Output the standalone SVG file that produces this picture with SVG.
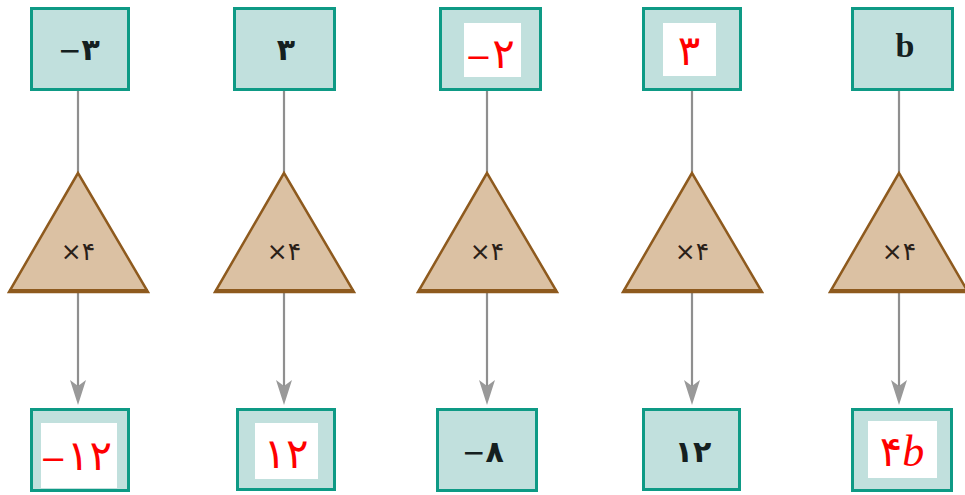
<svg xmlns="http://www.w3.org/2000/svg" width="965" height="495" viewBox="0 0 965 495">
<style>
.box{fill:#c1e0dd;stroke:#0e9a85;stroke-width:3}
.wb{fill:#ffffff}
.tri{fill:#dbc1a3;stroke:#8e5a1e;stroke-width:2.5;stroke-linejoin:miter}
.base{stroke:#8e5a1e;stroke-width:4}
.ln{stroke:#8f8f8f;stroke-width:2.2;fill:none}
.ah{fill:#999999}
.dk{font-family:"DejaVu Sans",sans-serif;font-size:30px;font-weight:bold;fill:#152020;text-anchor:middle}
.op{font-family:"DejaVu Sans",sans-serif;font-size:25px;fill:#2a2018;text-anchor:middle}
.rd{font-family:"DejaVu Sans",sans-serif;font-size:42px;fill:#ff0000;text-anchor:middle}
.bs{font-family:"Liberation Serif",serif;font-size:34px;font-weight:bold;fill:#152020;text-anchor:middle}
.mn{font-weight:normal;font-size:28px}
.mr{font-size:32px}
</style>
<g id="connectors">
<line class="ln" x1="78" y1="91" x2="78" y2="172"/>
<line class="ln" x1="78" y1="292" x2="78" y2="390"/>
<line class="ln" x1="284" y1="91" x2="284" y2="172"/>
<line class="ln" x1="284" y1="292" x2="284" y2="390"/>
<line class="ln" x1="487" y1="91" x2="487" y2="172"/>
<line class="ln" x1="487" y1="292" x2="487" y2="390"/>
<line class="ln" x1="692" y1="91" x2="692" y2="172"/>
<line class="ln" x1="692" y1="292" x2="692" y2="390"/>
<line class="ln" x1="899" y1="91" x2="899" y2="172"/>
<line class="ln" x1="899" y1="292" x2="899" y2="390"/>
<path class="ah" d="M70,380 L78,386 L86,380 L78,405 Z"/>
<path class="ah" d="M276,380 L284,386 L292,380 L284,405 Z"/>
<path class="ah" d="M479,380 L487,386 L495,380 L487,405 Z"/>
<path class="ah" d="M684,380 L692,386 L700,380 L692,405 Z"/>
<path class="ah" d="M891,380 L899,386 L907,380 L899,405 Z"/>
</g>
<g id="top1"><rect class="box" x="31.5" y="8.5" width="97" height="81"/><text class="dk" x="79" y="60"><tspan class="mn">−</tspan>۳</text></g>
<g id="top2"><rect class="box" x="234.5" y="8.5" width="100" height="81"/><text class="dk" x="286" y="60">۳</text></g>
<g id="top3"><rect class="box" x="440.5" y="8.5" width="100" height="81"/><rect class="wb" x="464" y="23" width="57" height="54"/><text class="rd" x="490" y="68"><tspan class="mr">−</tspan>۲</text></g>
<g id="top4"><rect class="box" x="643.5" y="8.5" width="97" height="81"/><rect class="wb" x="663" y="23" width="53" height="53"/><text class="rd" x="689" y="65">۳</text></g>
<g id="top5"><rect class="box" x="852.5" y="8.5" width="100" height="81"/><text class="bs" x="905" y="57">b</text></g>
<g id="op1"><polygon class="tri" points="78,173 9,292 148,292"/><line class="base" x1="9" y1="291" x2="148" y2="291"/><text class="op" x="78" y="260">×۴</text></g>
<g id="op2"><polygon class="tri" points="284,173 215,292 354,292"/><line class="base" x1="215" y1="291" x2="354" y2="291"/><text class="op" x="284" y="260">×۴</text></g>
<g id="op3"><polygon class="tri" points="487,173 418,292 557,292"/><line class="base" x1="418" y1="291" x2="557" y2="291"/><text class="op" x="487" y="260">×۴</text></g>
<g id="op4"><polygon class="tri" points="692,173 623,292 762,292"/><line class="base" x1="623" y1="291" x2="762" y2="291"/><text class="op" x="692" y="260">×۴</text></g>
<g id="op5"><polygon class="tri" points="899,173 830,292 968,292"/><line class="base" x1="830" y1="291" x2="968" y2="291"/><text class="op" x="899" y="260">×۴</text></g>
<g id="bot1"><rect class="box" x="31.5" y="409.5" width="97" height="81"/><rect class="wb" x="41" y="423" width="76" height="65"/><text class="rd" x="76" y="470"><tspan class="mr">−</tspan>۱۲</text></g>
<g id="bot2"><rect class="box" x="237.5" y="409.5" width="97" height="80"/><rect class="wb" x="255" y="423" width="63" height="56"/><text class="rd" x="286" y="468">۱۲</text></g>
<g id="bot3"><rect class="box" x="437.5" y="409.5" width="99" height="81"/><text class="dk" x="483" y="462"><tspan class="mn">−</tspan>۸</text></g>
<g id="bot4"><rect class="box" x="643.5" y="409.5" width="96" height="80"/><text class="dk" x="693" y="462">۱۲</text></g>
<g id="bot5"><rect class="box" x="852.5" y="409.5" width="99" height="81"/><rect class="wb" x="868" y="421" width="69" height="57"/><text class="rd" x="902" y="466">۴<tspan font-family="Liberation Serif,serif" font-style="italic" font-size="44">b</tspan></text></g>
</svg>
